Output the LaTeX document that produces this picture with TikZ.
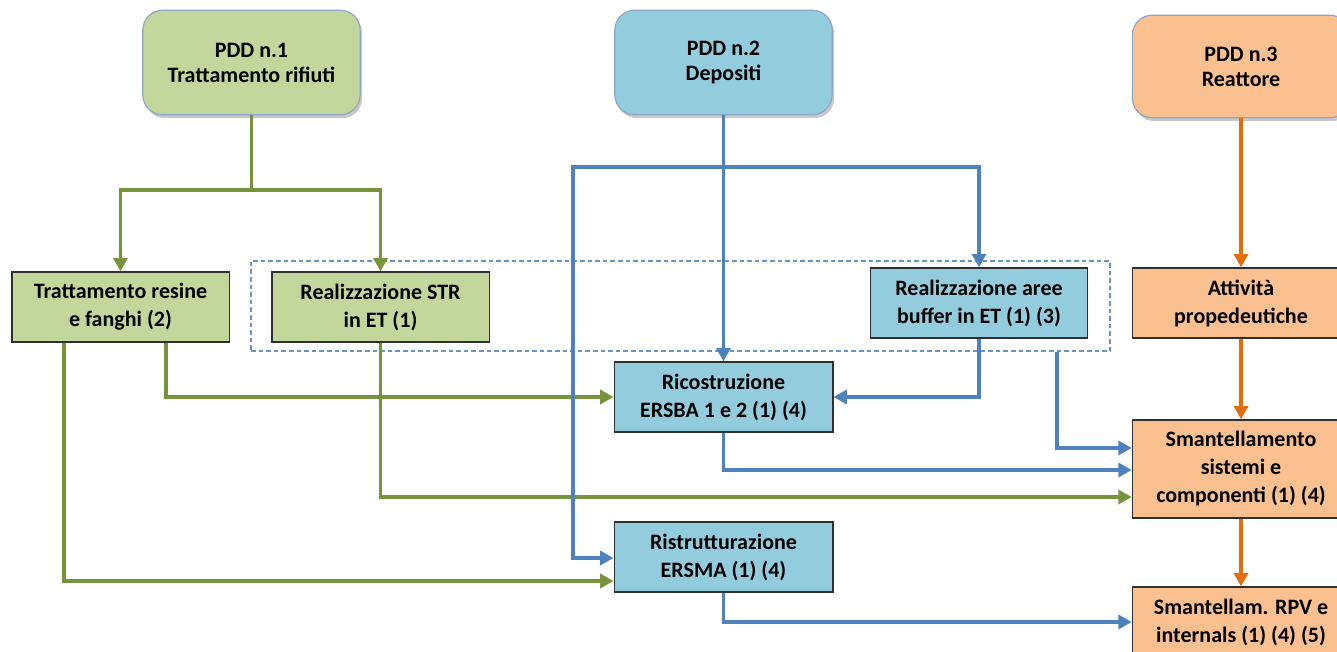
\documentclass[tikz,border=0pt]{standalone}
\usepackage{fontspec}
\setmainfont{Carlito}
\usetikzlibrary{arrows.meta,shadows}
\definecolor{gfill}{HTML}{C3D69B}
\definecolor{bfill}{HTML}{93CDDD}
\definecolor{ofill}{HTML}{FAC090}
\definecolor{gline}{HTML}{77933C}
\definecolor{bline}{HTML}{4F81BD}
\definecolor{oline}{HTML}{E46C0A}
\definecolor{tborder}{HTML}{8CA6C9}
\definecolor{rborder}{HTML}{303030}
\tikzset{
  topbox/.style={rectangle, rounded corners=15pt, draw=tborder, line width=0.9pt,
    minimum width=163pt, minimum height=78.5pt, align=center,
    font=\bfseries\fontsize{16.5}{18.75}\selectfont,
    drop shadow={shadow xshift=1.5pt, shadow yshift=-2.5pt, opacity=0.35, fill=black!60}},
  taskbox/.style={rectangle, draw=rborder, line width=1pt,
    minimum width=163pt, minimum height=52.5pt, align=center, inner sep=2pt,
    font=\bfseries\fontsize{16.5}{21}\selectfont},
  conn/.style={line width=2.7pt, -{Triangle[length=10pt,width=10.5pt]}},
  gcon/.style={conn, draw=gline, color=gline},
  bcon/.style={conn, draw=bline, color=bline},
  ocon/.style={conn, draw=oline, color=oline},
  groupbox/.style={rectangle, draw=bline!85, line width=0.8pt, dash pattern=on 3.5pt off 2.2pt,
    minimum width=644.25pt, minimum height=67.5pt, inner sep=0pt}
}
\begin{document}
\begin{tikzpicture}[x=0.75pt,y=-0.75pt]
\useasboundingbox (0,0) rectangle (1337,652);
\clip (0,0) rectangle (1337,652);
\fill[white] (0,0) rectangle (1337,652);

% dashed group
\node[groupbox] (grp) at (680.5,306) {};

% top boxes
\node[topbox, fill=gfill] (pdd1) at (251.5,62.5) {PDD n.1\\Trattamento rifiuti};
\node[topbox, fill=bfill] (pdd2) at (723.5,62.5) {PDD n.2\\Depositi};
\node[topbox, fill=ofill, minimum height=77pt] (pdd3) at (1241,66.5) {PDD n.3\\Reattore};

% task boxes
\node[taskbox, fill=gfill] (tr) at (120.5,307) {Trattamento resine\\e fanghi (2)};
\node[taskbox, fill=gfill] (str) at (380.5,307) {Realizzazione STR\\in ET (1)};
\node[taskbox, fill=bfill] (buf) at (979,303) {Realizzazione aree\\buffer in ET (1) (3)};
\node[taskbox, fill=ofill] (att) at (1241,303) {Attività\\propedeutiche};
\node[taskbox, fill=bfill, minimum width=164pt] (ersba) at (723.5,397) {Ricostruzione\\ERSBA 1 e 2 (1) (4)};
\node[taskbox, fill=ofill, minimum height=73.5pt] (smsis) at (1241,469) {Smantellamento\\sistemi e\\componenti (1) (4)};
\node[taskbox, fill=bfill, minimum width=164pt] (ersma) at (723.5,557) {Ristrutturazione\\ERSMA (1) (4)};
\node[taskbox, fill=ofill] (rpv) at (1241,622) {Smantellam. RPV e\\internals (1) (4) (5)};

% helper coordinates
\coordinate (jg) at (251.5,190);
\coordinate (jb) at (723.5,167);
\coordinate (jbl) at (573,167);
\coordinate (xa) at (64,0);
\coordinate (xb) at (166,0);
\coordinate (xc) at (1057,0);
\coordinate (ya) at (0,581);
\coordinate (yb) at (0,558);
\coordinate (yc) at (0,448);
\coordinate (yd) at (0,470);
\coordinate (ye) at (0,497);

% green connectors
\draw[gcon] (pdd1.south) -- (jg) -| (tr.north);
\draw[gcon] (jg) -| (str.north);
\draw[gcon] (tr.south -| xa) |- (ersma.west |- ya);
\draw[gcon] (tr.south -| xb) |- (ersba.west);
\draw[gcon] (str.south) |- (smsis.west |- ye);

% blue connectors
\draw[bcon] (pdd2.south) -- (ersba.north);
\draw[bcon] (jb) -| (buf.north);
\draw[bcon] (jb) -- (jbl) |- (ersma.west |- yb);
\draw[bcon] (buf.south) |- (ersba.east);
\draw[bcon] (grp.south -| xc) |- (smsis.west |- yc);
\draw[bcon] (ersba.south) |- (smsis.west |- yd);
\draw[bcon] (ersma.south) |- (rpv.west);

% orange connectors
\draw[ocon] (pdd3.south) -- (att.north);
\draw[ocon] (att.south) -- (smsis.north);
\draw[ocon] (smsis.south) -- (rpv.north);
\end{tikzpicture}
\end{document}
